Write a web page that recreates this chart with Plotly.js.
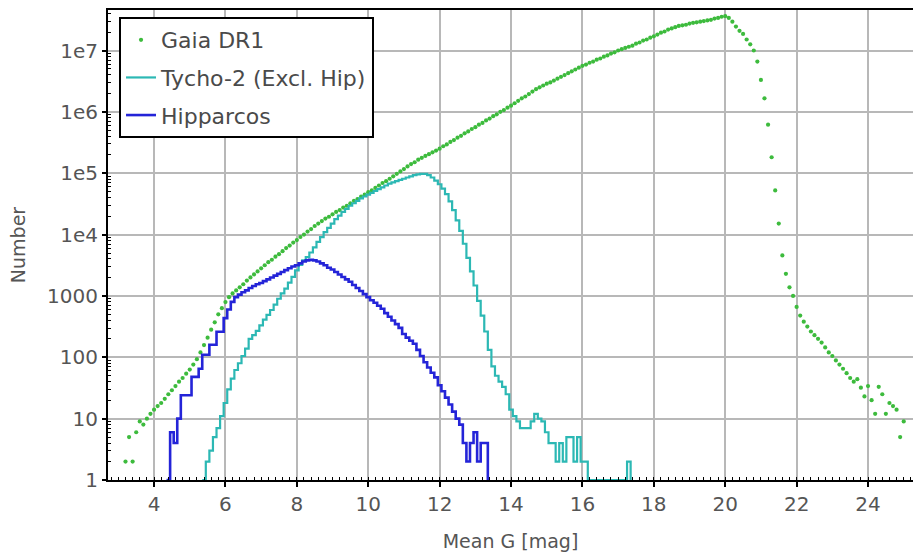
<!DOCTYPE html>
<html>
<head>
<meta charset="utf-8">
<script src="https://cdn.plot.ly/plotly-3.0.1.min.js"></script>
<style>
  html, body { margin: 0; padding: 0; background: #ffffff; }
  #chart { width: 913px; height: 556px; }
</style>
</head>
<body>
<div id="chart"></div>
<script>
// ---- Data ----
const binWidth = 0.1;

// Gaia DR1: counts per 0.1 mag bin, bin centres starting at G = 3.2
const gaiaFirstCentre = 3.2;
const gaiaCounts = [
  2, 5, 2, 6, 9, 8, 10, 12,
  14, 16, 18, 21, 25, 29, 34, 40, 46, 54,
  63, 76, 93, 120, 158, 209, 282, 372, 501, 631,
  794, 955, 1100, 1230, 1380, 1550, 1780, 2000, 2240, 2510,
  2820, 3160, 3550, 3890, 4370, 4790, 5370, 6030, 6610, 7410,
  8130, 9120, 10000, 11200, 12300, 13800, 15100, 16600, 18200, 19500,
  21400, 23400, 25100, 27500, 29500, 32400, 35500, 38000, 41700, 44700,
  49000, 52500, 57500, 63100, 69200, 74100, 81300, 89100, 97700, 107000,
  117000, 129000, 141000, 151000, 166000, 178000, 191000, 204000, 219000, 234000,
  251000, 275000, 295000, 324000, 347000, 380000, 407000, 447000, 479000, 525000,
  562000, 617000, 661000, 724000, 776000, 851000, 912000, 1000000, 1070000, 1170000,
  1260000, 1380000, 1510000, 1660000, 1780000, 1950000, 2140000, 2340000, 2510000, 2690000,
  2880000, 3020000, 3240000, 3470000, 3720000, 3980000, 4270000, 4570000, 4900000, 5250000,
  5620000, 5890000, 6310000, 6610000, 7080000, 7410000, 7940000, 8320000, 8910000, 9330000,
  10000000, 10500000, 11000000, 11500000, 12000000, 12900000, 13500000, 14500000, 15100000, 16200000,
  17000000, 18200000, 19500000, 20400000, 21900000, 22900000, 24000000, 25100000, 25700000, 26300000,
  27500000, 28200000, 28800000, 29500000, 30200000, 30900000, 31600000, 33100000, 33900000, 35500000,
  36300000, 33900000, 29500000, 24500000, 20900000, 18600000, 15100000, 12600000, 10000000, 6610000,
  3310000, 1660000, 617000, 182000, 52500, 15100, 4570, 2290, 1380, 1000,
  661, 479, 380, 316, 263, 229, 200, 174, 145, 120,
  105, 89, 76, 65, 55, 46, 40, 44, 32, 23,
  34, 20, 12, 33, 25, 12, 18, 16, 14, 5,
  9
];

// Tycho-2 (excluding Hipparcos): counts per 0.1 mag bin, left edges from G = 5.35
// (1 = empty bin, drawn on the floor of the log axis)
const tychoFirstEdge = 5.35;
const tychoCounts = [
  1, 2, 3, 5, 7, 11, 18, 30, 45, 62,
  80, 105, 138, 200, 230, 270, 330, 410, 490, 590,
  720, 900, 1100, 1320, 1650, 2050, 2600, 3200, 3800, 4300,
  5100, 6200, 7600, 9100, 11000, 12900, 15100, 17800, 20400, 23400,
  26300, 29500, 32400, 35500, 38900, 41700, 44700, 47900, 51300, 55000,
  58900, 63100, 67600, 70800, 74100, 77600, 81300, 85100, 89100, 93300,
  95500, 97700, 97700, 93300, 85100, 75900, 66100, 56200, 45700, 34700,
  25100, 17000, 11500, 7080, 4170, 2510, 1480, 832, 479, 263,
  132, 71, 50, 40, 33, 25, 14, 11, 9, 7,
  7, 7, 9, 12, 10, 9, 6, 4, 4, 2,
  4, 2, 5, 5, 2, 5, 2, 2, 1, 1,
  1, 1, 1, 1, 1, 1, 1, 1, 1, 2,
  1
];

// Hipparcos: counts per 0.1 mag bin, left edges from G = 4.35
const hipFirstEdge = 4.35;
const hipCounts = [
  1, 6, 4, 10, 24, 24, 24, 48, 48, 65,
  110, 110, 160, 160, 260, 260, 435, 600, 800, 955,
  1050, 1150, 1230, 1350, 1450, 1550, 1620, 1740, 1860, 2000,
  2140, 2290, 2450, 2630, 2820, 3020, 3160, 3390, 3630, 3800,
  3890, 3800, 3630, 3390, 3160, 2880, 2690, 2450, 2240, 2040,
  1860, 1700, 1510, 1350, 1200, 1070, 955, 851, 776, 692,
  617, 525, 457, 398, 347, 302, 240, 209, 186, 166,
  132, 105, 83, 68, 56, 47, 35, 28, 22, 17,
  13, 10, 8, 4, 2, 4, 6, 2, 4, 4,
  1
];

// Axis tick labels
const xTickVals = [4, 6, 8, 10, 12, 14, 16, 18, 20, 22, 24];
const yTickVals = [1, 10, 100, 1000, 1e4, 1e5, 1e6, 1e7];
const yTickText = ['1', '10', '100', '1000', '1e4', '1e5', '1e6', '1e7'];

const seriesNames = ['Gaia DR1', 'Tycho-2 (Excl. Hip)', 'Hipparcos'];

// ---- Build traces ----
function positions(start, n) {
  const out = [];
  for (let i = 0; i < n; i++) out.push(Math.round((start + i * binWidth) * 100) / 100);
  return out;
}

const minorY = [];
yTickVals.forEach(function (d) {
  for (let k = 2; k <= 9; k++) minorY.push(d * k);
});

const traces = [
  {
    type: 'scatter', mode: 'markers', name: seriesNames[0], legendgroup: 'g',
    x: positions(gaiaFirstCentre, gaiaCounts.length), y: gaiaCounts,
    marker: { color: '#3dbb3d', size: 4.2, line: { width: 0 } }
  },
  {
    type: 'scatter', mode: 'lines', name: seriesNames[1], legendgroup: 't',
    x: positions(tychoFirstEdge, tychoCounts.length), y: tychoCounts,
    line: { color: '#2cb8b4', width: 2.2, shape: 'hv' }
  },
  {
    type: 'scatter', mode: 'lines', name: seriesNames[2], legendgroup: 'h',
    x: positions(hipFirstEdge, hipCounts.length), y: hipCounts,
    line: { color: '#2424d8', width: 2.6, shape: 'hv' }
  }
];

const layout = {
  width: 913, height: 556,
  margin: { l: 108, r: 0, t: 10, b: 76 },
  paper_bgcolor: '#ffffff', plot_bgcolor: '#ffffff',
  font: { family: 'DejaVu Sans, Verdana, sans-serif', size: 20, color: '#555555' },
  showlegend: true,
  legend: {
    x: 0.0137, y: 0.985, xanchor: 'left', yanchor: 'top',
    bgcolor: '#ffffff', bordercolor: '#000000', borderwidth: 2,
    font: { size: 22, color: '#4a4a4a' },
    traceorder: 'grouped', tracegroupgap: 6
  },
  xaxis: {
    range: [2.71, 25.26],
    tickmode: 'array', tickvals: xTickVals,
    showgrid: true, gridcolor: '#b8b8b8', gridwidth: 2,
    zeroline: false,
    showline: true, linecolor: '#000000', linewidth: 2, mirror: true,
    ticks: 'outside', ticklen: 5, tickwidth: 2, tickcolor: '#000000',
    minor: { dtick: 0.2, ticks: 'inside', ticklen: 3, tickwidth: 1, tickcolor: '#000000', showgrid: false },
    tickfont: { size: 20, color: '#555555' },
    title: { text: 'Mean G [mag]', font: { size: 19, color: '#555555' }, standoff: 20 }
  },
  yaxis: {
    type: 'log', range: [0, 7.66],
    tickmode: 'array', tickvals: yTickVals, ticktext: yTickText,
    showgrid: true, gridcolor: '#b8b8b8', gridwidth: 2,
    zeroline: false,
    showline: true, linecolor: '#000000', linewidth: 2, mirror: true,
    ticks: 'outside', ticklen: 4, tickwidth: 2, tickcolor: '#000000',
    minor: { tickmode: 'array', tickvals: minorY, ticks: 'inside', ticklen: 3, tickwidth: 1, tickcolor: '#000000', showgrid: false },
    tickfont: { size: 20, color: '#555555' },
    title: { text: 'Number', font: { size: 19, color: '#555555' }, standoff: 16 }
  }
};

Plotly.newPlot('chart', traces, layout, { displayModeBar: false, staticPlot: true });
</script>
</body>
</html>
